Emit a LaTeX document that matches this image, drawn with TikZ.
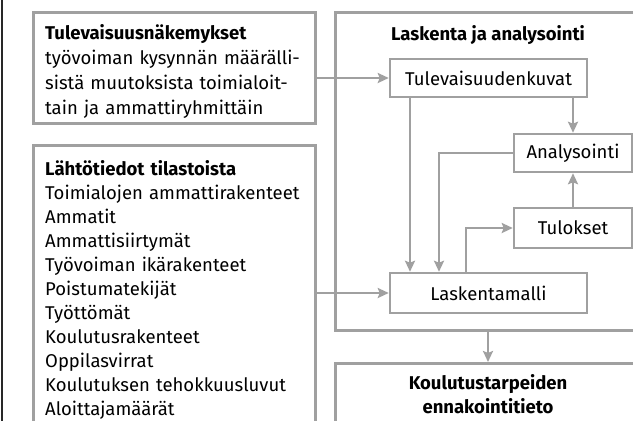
\documentclass[tikz,border=0pt]{standalone}
\usepackage{fontspec}
\setmainfont{Fira Sans}
\usetikzlibrary{arrows.meta,positioning}
\definecolor{lg}{RGB}{160,160,160}
\definecolor{dk}{RGB}{40,40,40}
\begin{document}
\begin{tikzpicture}[x=1pt,y=-1pt,
  box/.style={draw=lg,line width=2.5pt,fill=white,inner sep=0pt,font=\fontsize{18.5}{24}\selectfont},
  txt/.style={inner sep=0pt,text width=275pt,align=left,anchor=base west},
  conn/.style={draw=lg,line width=2.5pt,-{Stealth[length=11pt,width=10pt,inset=2pt]}},
  lbl/.style={inner sep=0pt,font=\fontsize{18.5}{24}\selectfont\bfseries,align=center,anchor=base}]
\useasboundingbox (0,0) rectangle (633,421);
\clip (0,0) rectangle (633,421);
\fill[white] (0,0) rectangle (633,421);
\draw[dk,line width=2pt] (1.5,-5) -- (1.5,430);
% left boxes
\node[box,anchor=north west,minimum width=282pt,minimum height=111pt] (box1) at (32,11) {};
\node[txt,font=\fontsize{18.5}{25.2}\selectfont] (box1t) at (45,39)
  {\textbf{Tulevaisuusnäkemykset}\\työvoiman kysynnän määrälli-\\sistä muutoksista toimialoit-\\tain ja ammattiryhmittäin};
\node[box,anchor=north west,minimum width=282pt,minimum height=300pt] (box2) at (32,144) {};
\node[txt,font=\fontsize{18.5}{24}\selectfont] (box2t) at (45,175)
  {\textbf{Lähtötiedot tilastoista}\\Toimialojen ammattirakenteet\\Ammatit\\Ammattisiirtymät\\Työvoiman ikärakenteet\\Poistumatekijät\\Työttömät\\Koulutusrakenteet\\Oppilasvirrat\\Koulutuksen tehokkuusluvut\\Aloittajamäärät};
% right big box
\node[box,anchor=north west,minimum width=308pt,minimum height=318pt] (lask) at (334,11) {};
\node[lbl] (laskt) at (488,40) {Laskenta ja analysointi};
\node[box,minimum width=197pt,minimum height=38pt] (tul) at (488.5,78) {Tulevaisuudenkuvat};
\node[box,minimum width=118pt,minimum height=38pt] (ana) at (573,153) {Analysointi};
\node[box,minimum width=118pt,minimum height=40pt] (tulok) at (573,228) {Tulokset};
\node[box,minimum width=197pt,minimum height=40pt] (lm) at (488.5,293) {Laskentamalli};
% bottom box
\node[box,anchor=north west,minimum width=308pt,minimum height=90pt] (kou) at (334,362) {};
\node[lbl] (kout) at (488,413) {Koulutustarpeiden\\ennakointitieto};
% connectors
\draw[conn] (box1.east |- tul.west) -- (tul.west);
\draw[conn] (box2.east |- lm.west) -- (lm.west);
\draw[conn] ([xshift=-78.5pt]tul.south) -- ([xshift=-78.5pt]lm.north);
\draw[conn] (tul.south -| ana.north) -- (ana.north);
\draw[conn] (ana.west) -| ([xshift=-49.5pt]lm.north);
\draw[conn] ([xshift=-22.5pt]lm.north) |- (tulok.west);
\draw[conn] (tulok.north) -- (ana.south);
\draw[conn] (lask.south -| laskt.base) -- (kou.north -| laskt.base);
\end{tikzpicture}
\end{document}
